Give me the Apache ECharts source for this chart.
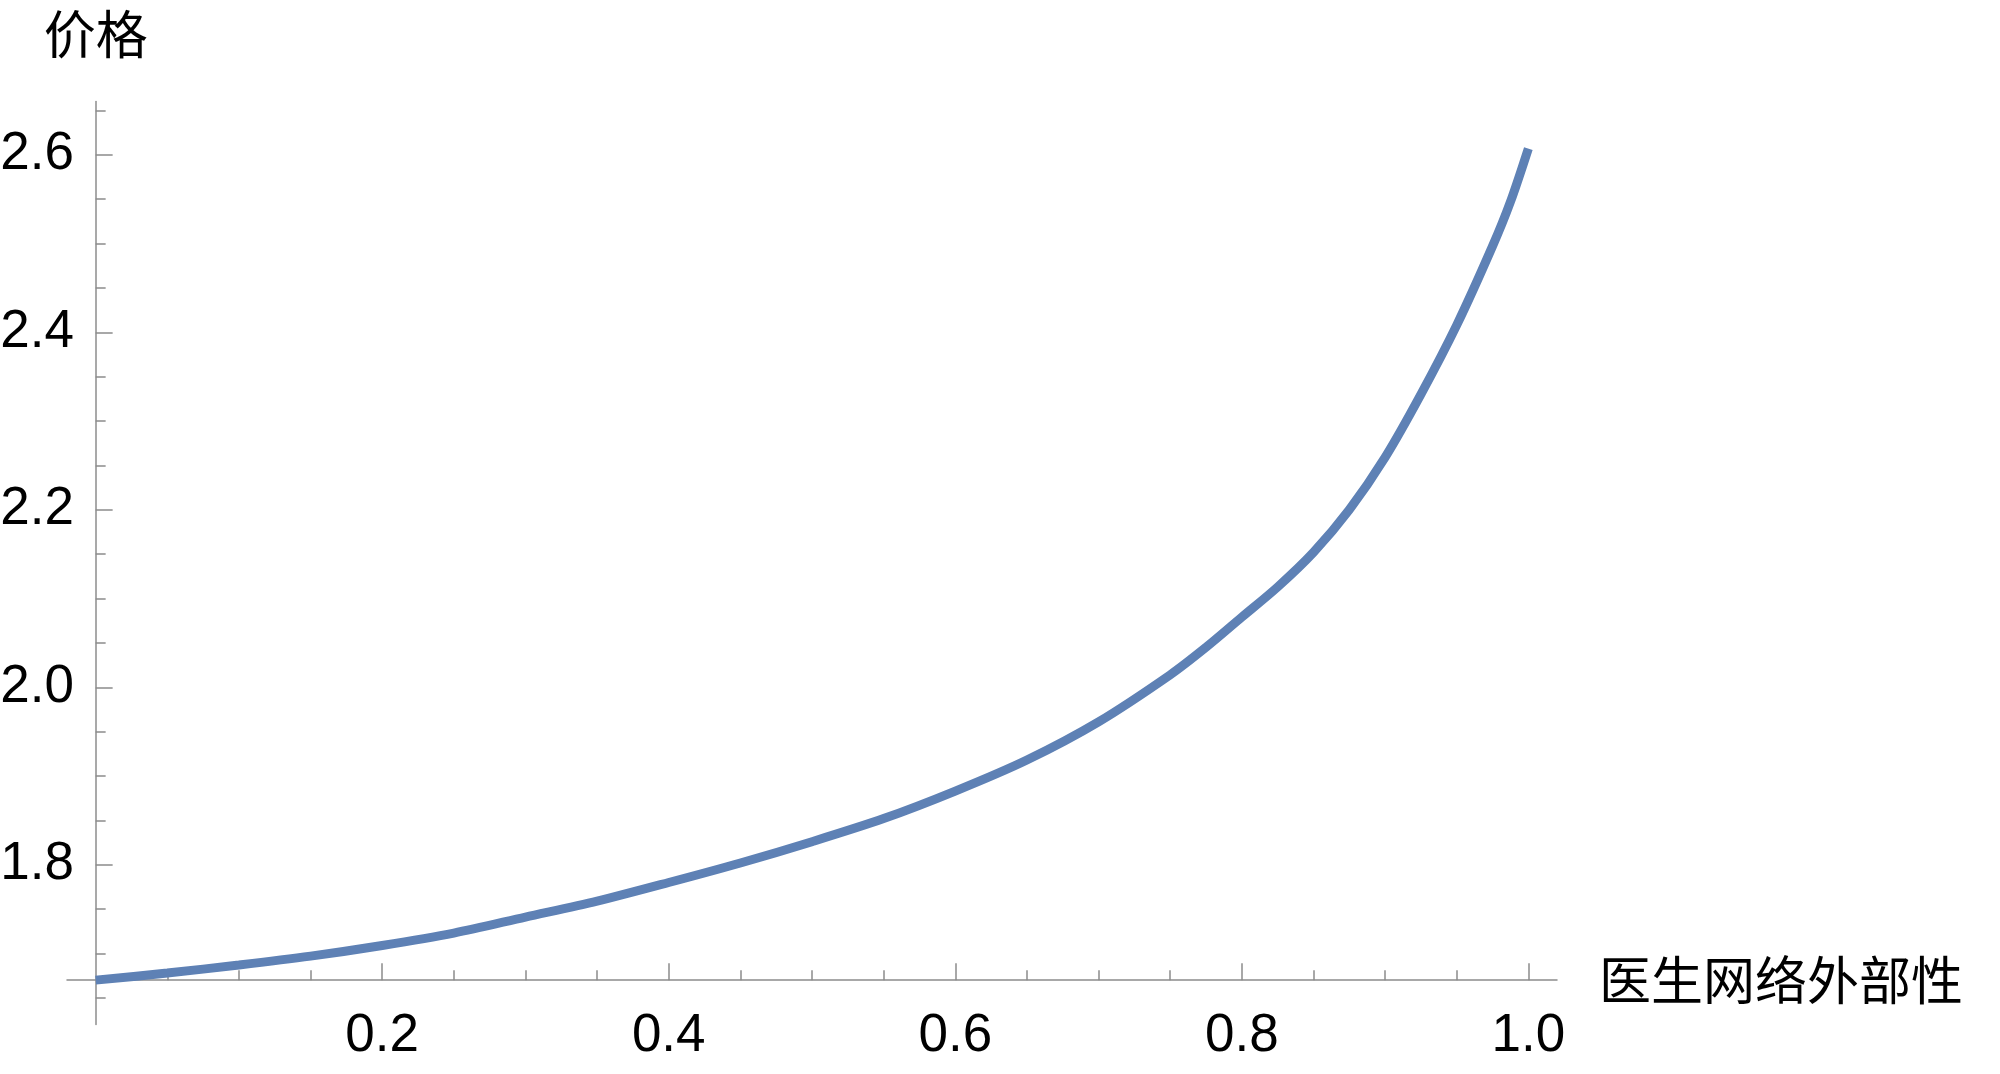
<!DOCTYPE html>
<html>
<head>
<meta charset="utf-8">
<title>价格</title>
<script src="https://cdn.jsdelivr.net/npm/echarts@6/dist/echarts.min.js"></script>
<style>
  html, body { margin: 0; padding: 0; background: #fff; }
  #chart { width: 2000px; height: 1074px; }
</style>
</head>
<body>
<div id="chart"></div>
<script>
// 医生网络外部性 (x) -> 价格 (y)
const externality = [0, 0.05, 0.1, 0.15, 0.2, 0.25, 0.3, 0.35, 0.4, 0.45, 0.5, 0.55, 0.6, 0.65, 0.7, 0.75, 0.775, 0.8, 0.825, 0.85, 0.875, 0.9, 0.925, 0.95, 0.975, 0.9875, 1.0];
const price = [1.670, 1.678, 1.687, 1.697, 1.709, 1.723, 1.741, 1.759, 1.780, 1.802, 1.826, 1.852, 1.883, 1.918, 1.961, 2.014, 2.045, 2.079, 2.113, 2.152, 2.200, 2.259, 2.330, 2.408, 2.497, 2.547, 2.607];

// tick marks (Mathematica style: long major, short minor)
const xMajorTicks = [0.2, 0.4, 0.6, 0.8, 1.0];
const xMinorTicks = [0.05, 0.1, 0.15, 0.25, 0.3, 0.35, 0.45, 0.5, 0.55, 0.65, 0.7, 0.75, 0.85, 0.9, 0.95];
const yMajorTicks = [1.8, 2.0, 2.2, 2.4, 2.6];
const yMinorTicks = [1.65, 1.7, 1.75, 1.85, 1.9, 1.95, 2.05, 2.1, 2.15, 2.25, 2.3, 2.35, 2.45, 2.5, 2.55, 2.65];

// plot range and where the axes cross
const xMin = -0.02, xMax = 1.02;
const yMin = 1.62, yMax = 2.66;
const yCross = 1.67;

const axisColor = '#8c8c8c';
const numFont = 'Liberation Sans, Arial, sans-serif';
const cjkFont = 'Noto Sans CJK SC, sans-serif';

const chart = echarts.init(document.getElementById('chart'));

const xBase = {
    type: 'value',
    min: xMin,
    max: xMax,
    position: 'bottom',
    splitLine: { show: false },
    axisLine: { onZero: true, onZeroAxisIndex: 2, lineStyle: { color: axisColor, width: 1.5 } }
};
const yBase = {
    type: 'value',
    min: yMin,
    max: yMax,
    position: 'left',
    splitLine: { show: false },
    axisLine: { onZero: true, onZeroAxisIndex: 0, lineStyle: { color: axisColor, width: 1.5 } }
};

chart.setOption({
    animation: false,
    grid: {
        left: 67, right: 443, top: 101.5, bottom: 49.5,
        outerBoundsMode: 'none'
    },
    xAxis: [
        Object.assign({}, xBase, {
            name: '医生网络外部性',
            nameLocation: 'end',
            nameGap: 42,
            nameTextStyle: { fontFamily: cjkFont, fontSize: 52, color: '#000' },
            axisTick: { show: true, inside: true, length: 17, customValues: xMajorTicks,
                lineStyle: { color: axisColor, width: 1.5 } },
            // labels end up measured from the grid edge, not the crossing line
            axisLabel: { show: true, customValues: xMajorTicks, margin: -15,
                fontFamily: numFont, fontSize: 53, color: '#000',
                formatter: function (v) { return v.toFixed(1); } }
        }),
        Object.assign({}, xBase, {
            axisLine: { show: false, onZero: true, onZeroAxisIndex: 2 },
            axisTick: { show: true, inside: true, length: 10, customValues: xMinorTicks,
                lineStyle: { color: axisColor, width: 1.5 } },
            axisLabel: { show: false }
        })
    ],
    yAxis: [
        Object.assign({}, yBase, {
            name: '价格',
            nameLocation: 'end',
            nameGap: 41,
            nameTextStyle: { fontFamily: cjkFont, fontSize: 52, color: '#000' },
            axisTick: { show: true, inside: true, length: 17, customValues: yMajorTicks,
                lineStyle: { color: axisColor, width: 1.5 } },
            axisLabel: { show: true, customValues: yMajorTicks, margin: -7,
                fontFamily: numFont, fontSize: 53, color: '#000',
                formatter: function (v) { return v.toFixed(1); } }
        }),
        Object.assign({}, yBase, {
            axisLine: { show: false, onZero: true, onZeroAxisIndex: 0 },
            axisTick: { show: true, inside: true, length: 10, customValues: yMinorTicks,
                lineStyle: { color: axisColor, width: 1.5 } },
            axisLabel: { show: false }
        }),
        {
            // helper axis: its zero sits at y = yCross so the x axis can cross there
            type: 'value',
            show: false,
            min: yMin - yCross,
            max: yMax - yCross
        }
    ],
    series: [{
        type: 'line',
        xAxisIndex: 0,
        yAxisIndex: 0,
        data: externality.map(function (x, i) { return [x, price[i]]; }),
        showSymbol: false,
        smooth: 0.3,
        lineStyle: { color: '#5e81b5', width: 9, cap: 'butt' }
    }]
});
</script>
</body>
</html>
